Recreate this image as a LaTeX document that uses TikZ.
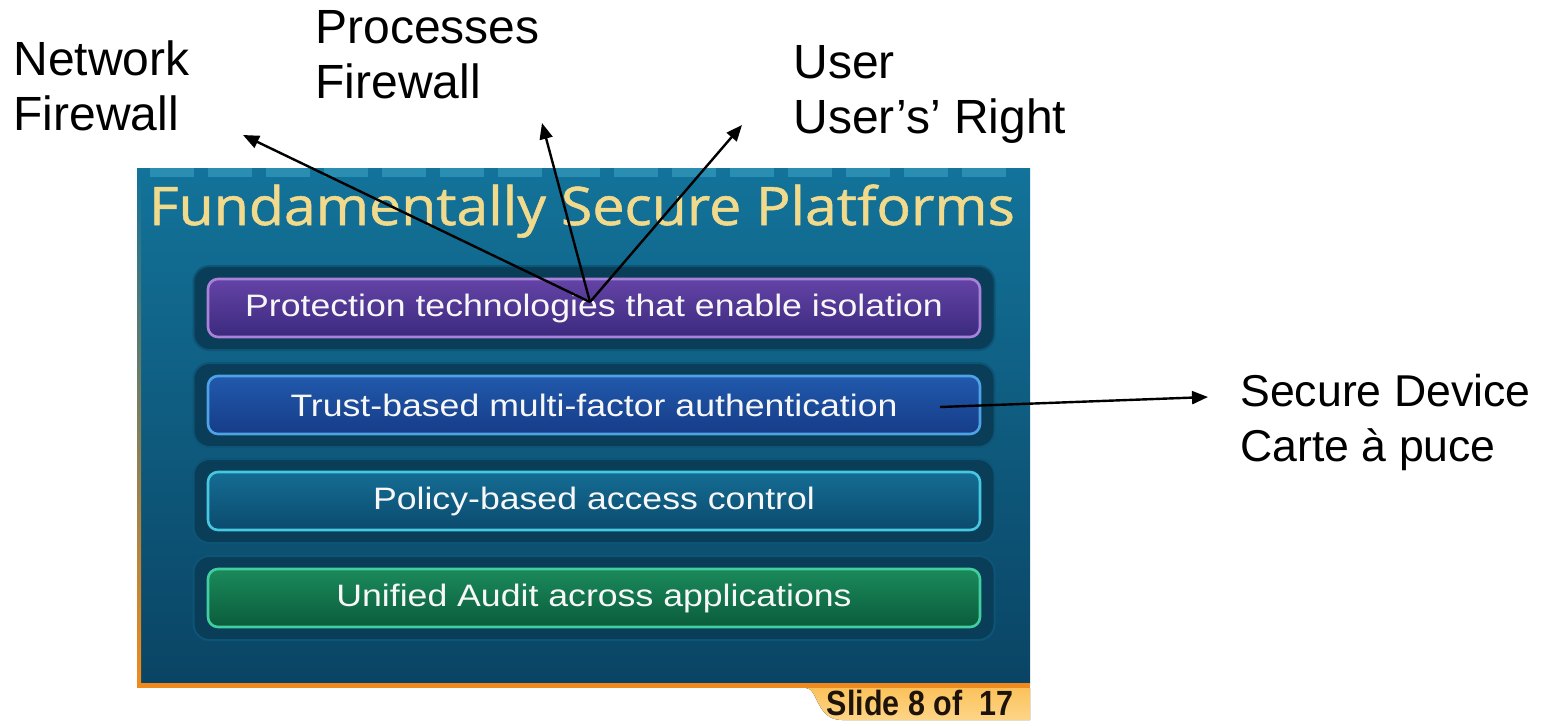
\documentclass[tikz,border=0pt]{standalone}
\usepackage{fontspec}
\setmainfont{Liberation Sans}
\newfontfamily\titlefont[FakeStretch=1.08,FakeBold=1]{Open Sans}
\newfontfamily\slidefont[FakeStretch=1.15]{Liberation Sans}
\newfontfamily\tabfont[FakeStretch=0.87]{Liberation Sans}
\usetikzlibrary{arrows.meta}

\definecolor{panelTop}{HTML}{13739A}
\definecolor{panelBot}{HTML}{0A4464}
\definecolor{tickBlue}{HTML}{2A8DB2}
\definecolor{frameDark}{HTML}{0A3D58}
\definecolor{frameEdge}{HTML}{0D5576}
\definecolor{titleGold}{HTML}{F1DA8C}
\definecolor{purpleTop}{HTML}{6443A6}
\definecolor{purpleBot}{HTML}{3B2A7E}
\definecolor{purpleEdge}{HTML}{A983DA}
\definecolor{blueTop}{HTML}{2159AC}
\definecolor{blueBot}{HTML}{163C88}
\definecolor{blueEdge}{HTML}{4EA2E8}
\definecolor{tealTop}{HTML}{156D94}
\definecolor{tealBot}{HTML}{0B4A6E}
\definecolor{tealEdge}{HTML}{46C8E0}
\definecolor{greenTop}{HTML}{1B8A5B}
\definecolor{greenBot}{HTML}{0A5C3B}
\definecolor{greenEdge}{HTML}{42CFA0}
\definecolor{tabTop}{HTML}{FBC25C}
\definecolor{tabBot}{HTML}{FDD587}
\definecolor{rimOrange}{HTML}{EF8A1C}

\tikzset{
  btnframe/.style={rounded corners=8pt, fill=frameDark, draw=frameEdge,
    line width=1pt, minimum width=400.5pt, minimum height=42pt},
  btn/.style n args={3}{rounded corners=5pt, top color=#1, bottom color=#2,
    draw=#3, line width=1.3pt, minimum width=386pt, minimum height=29pt,
    text=white!94!gray, font=\slidefont\fontsize{15.5}{18}\selectfont},
  sidetext/.style={anchor=north west, inner sep=0pt, align=left,
    font=\fontsize{24}{27.5}\selectfont},
  arr/.style={-{Triangle[length=8pt,width=6.5pt]}, line width=1.2pt}
}

\begin{document}
\begin{tikzpicture}[x=0.5pt, y=-0.5pt]
	\useasboundingbox (0,0) rectangle (1559,720);

	% slide panel
	\fill[top color=panelTop, bottom color=panelBot] (137,168) rectangle (1030,683);
	\foreach \x in {150,208,...,1010}
		\fill[tickBlue] (\x,168) rectangle ++(44,9);
	\fill[top color=panelTop, bottom color=rimOrange] (137,177) rectangle (141,683);
	\fill[rimOrange] (137,683) rectangle (1030,688);
	\fill[top color=tabTop, bottom color=tabBot] (806,688) .. controls (818,688) and (816,720) .. (842,720)
		-- (1030,720) -- (1030,688) -- cycle;

	\node[anchor=base, text=titleGold, font=\titlefont\fontsize{26.5}{30}\selectfont] (title) at (582, 225) {Fundamentally Secure Platforms};

	% buttons
	\node[btnframe] (f1) at (594, 308) {};
	\node[btnframe] (f2) at (594, 405) {};
	\node[btnframe] (f3) at (594, 501) {};
	\node[btnframe] (f4) at (594, 598) {};

	\node[btn={purpleTop}{purpleBot}{purpleEdge}] (isolation) at (f1) {Protection technologies that enable isolation};
	\node[btn={blueTop}{blueBot}{blueEdge}] (auth) at (f2) {Trust-based multi-factor authentication};
	\node[btn={tealTop}{tealBot}{tealEdge}] (policy) at (f3) {Policy-based access control};
	\node[btn={greenTop}{greenBot}{greenEdge}] (audit) at (f4) {Unified Audit across applications};

	\node[anchor=base, text=black!85!brown, font=\tabfont\bfseries\fontsize{17.5}{20}\selectfont] (slideno) at (920, 715) {Slide 8 of \ 17};

	% side labels
	\node[sidetext] (netfw) at (13, 40) {Network\\Firewall};
	\node[sidetext] (procfw) at (315, 10) {Processes\\Firewall};
	\node[sidetext] (user) at (793, 45) {User\\User’s’ Right};
	\node[sidetext, font=\fontsize{22.3}{27.5}\selectfont] (device) at (1240, 374) {Secure Device\\Carte à puce};

	\coordinate (src) at (590, 302);
	\coordinate (netTip) at (243, 135);
	\coordinate (procTip) at (542, 123);
	\coordinate (userTip) at (742, 125);
	\coordinate (authSrc) at (940, 407);
	\coordinate (devTip) at (1208, 397);

	\path[arr] (src) edge (netTip);
	\path[arr] (src) edge (procTip);
	\path[arr] (src) edge (userTip);
	\path[arr] (authSrc) edge (devTip);

\end{tikzpicture}
\end{document}
